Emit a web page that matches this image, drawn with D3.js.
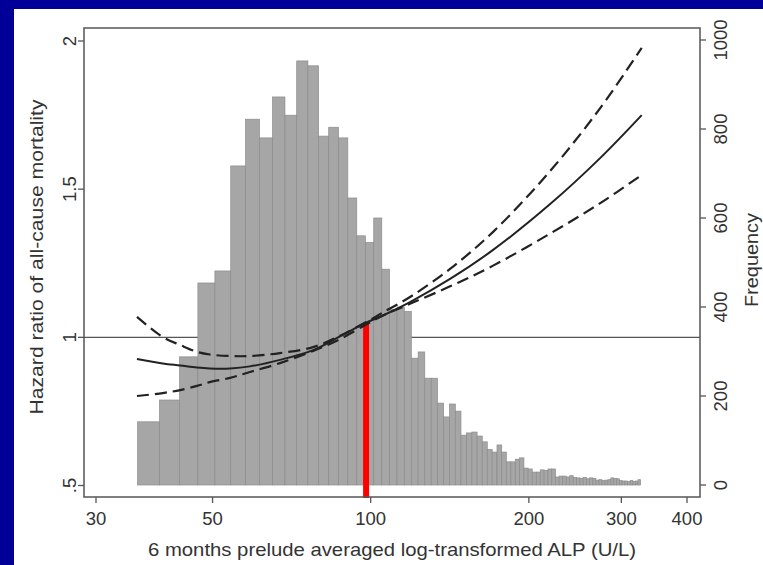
<!DOCTYPE html>
<html>
<head>
<meta charset="utf-8">
<script src="https://cdn.jsdelivr.net/npm/d3@7"></script>
<style>
  body { margin: 0; background: #000099; }
  svg { display: block; }
  text { font-family: "Liberation Sans", Arial, sans-serif; fill: #333; }
</style>
</head>
<body>
<script>
// histogram of ALP: 80 equal bins starting at 36 U/L
var binStart = 36, binWidth = 3.63;
var freq = [142, 191, 288, 454, 481, 717, 822, 780, 872, 831,
            953, 942, 784, 804, 780, 645, 560, 545, 600, 485,
            395, 400, 390, 285, 299, 240, 240, 184, 153, 182,
            166, 112, 117, 119, 110, 97, 80, 74, 90, 74,
            52, 52, 58, 61, 38, 36, 29, 29, 34, 33,
            36, 36, 18, 20, 20, 18, 21, 17, 16, 15,
            17, 14, 16, 15, 11, 12, 10, 11, 12, 16,
            15, 14, 10, 9, 9, 8, 10, 8, 9, 12];

// spline hazard ratio and 95% CI
var alp     = [35.9, 40.2, 43.4, 46.7, 49.4, 54.0, 58.9, 67.2, 77.7, 87.4, 98.4, 105, 118.8, 141.6, 171, 219, 273, 328];
var hr      = [0.927, 0.912, 0.905, 0.898, 0.895, 0.895, 0.902, 0.924, 0.957, 1.003, 1.051, 1.072, 1.119, 1.197, 1.295, 1.448, 1.604, 1.750];
var hrUpper = [1.069, 1.001, 0.974, 0.951, 0.942, 0.937, 0.937, 0.947, 0.967, 1.005, 1.053, 1.082, 1.136, 1.231, 1.356, 1.559, 1.772, 1.977];
var hrLower = [0.802, 0.812, 0.822, 0.836, 0.849, 0.863, 0.883, 0.913, 0.954, 0.994, 1.045, 1.072, 1.113, 1.172, 1.242, 1.349, 1.452, 1.548];

var refAlp = 98, refHr = 1.045;

var xTicks = [30, 50, 100, 200, 300, 400];
var hrTicks = [0.5, 1, 1.5, 2];
var hrTickLabels = [".5", "1", "1.5", "2"];
var freqTicks = [0, 200, 400, 600, 800, 1000];

var width = 763, height = 565;

var svg = d3.select("body").append("svg")
    .attr("width", width)
    .attr("height", height);

svg.append("rect")
    .attr("x", 14).attr("y", 9)
    .attr("width", width - 14).attr("height", height - 9)
    .attr("fill", "#fff");

var x = d3.scaleLog().domain([30, 400]).range([96, 687]);
var yHr = d3.scaleLinear().domain([0.5, 2]).range([485.5, 41]);
var yFreq = d3.scaleLinear().domain([0, 1000]).range([485, 40]);

var frame = {left: 84, right: 700, top: 28, bottom: 497};

// reference line at HR = 1
svg.append("line")
    .attr("x1", frame.left).attr("x2", frame.right)
    .attr("y1", yHr(1)).attr("y2", yHr(1))
    .attr("stroke", "#555").attr("stroke-width", 1.2);

// histogram
var bins = freq.map(function(f, i) {
  return {x0: binStart + i * binWidth, x1: binStart + (i + 1) * binWidth, f: f};
});

svg.append("g").selectAll("rect")
  .data(bins)
  .enter().append("rect")
    .attr("x", function(d) { return x(d.x0); })
    .attr("width", function(d) { return x(d.x1) - x(d.x0); })
    .attr("y", function(d) { return yFreq(d.f); })
    .attr("height", function(d) { return yFreq(0) - yFreq(d.f); })
    .attr("fill", "#a6a6a6")
    .attr("stroke", "#8c8c8c")
    .attr("stroke-width", 0.7);

// red marker
svg.append("line")
    .attr("x1", x(refAlp)).attr("x2", x(refAlp))
    .attr("y1", yHr(refHr)).attr("y2", frame.bottom + 1)
    .attr("stroke", "#ff0000").attr("stroke-width", 6);

// curves
function curvePath(vals) {
  return d3.line()
    .x(function(d, i) { return x(alp[i]); })
    .y(function(d) { return yHr(d); })
    .curve(d3.curveCatmullRom)(vals);
}

svg.append("path").attr("d", curvePath(hrUpper))
    .attr("fill", "none").attr("stroke", "#222").attr("stroke-width", 2.2)
    .attr("stroke-dasharray", "12,6");
svg.append("path").attr("d", curvePath(hrLower))
    .attr("fill", "none").attr("stroke", "#222").attr("stroke-width", 2.2)
    .attr("stroke-dasharray", "12,6");
svg.append("path").attr("d", curvePath(hr))
    .attr("fill", "none").attr("stroke", "#222").attr("stroke-width", 2);

// frame
svg.append("rect")
    .attr("x", frame.left).attr("y", frame.top)
    .attr("width", frame.right - frame.left).attr("height", frame.bottom - frame.top)
    .attr("fill", "none").attr("stroke", "#555").attr("stroke-width", 1.5);

// x axis
var xg = svg.append("g");
xg.selectAll("line").data(xTicks).enter().append("line")
    .attr("x1", function(d) { return x(d); }).attr("x2", function(d) { return x(d); })
    .attr("y1", frame.bottom).attr("y2", frame.bottom + 6)
    .attr("stroke", "#555").attr("stroke-width", 1.3);
xg.selectAll("text").data(xTicks).enter().append("text")
    .attr("x", function(d) { return x(d); })
    .attr("y", 525)
    .attr("text-anchor", "middle")
    .style("font-size", "18.5px")
    .text(function(d) { return d; });

// left axis
var lg = svg.append("g");
lg.selectAll("line").data(hrTicks).enter().append("line")
    .attr("x1", frame.left - 6).attr("x2", frame.left)
    .attr("y1", function(d) { return yHr(d); }).attr("y2", function(d) { return yHr(d); })
    .attr("stroke", "#555").attr("stroke-width", 1.3);
lg.selectAll("text").data(hrTicks).enter().append("text")
    .attr("transform", function(d) { return "translate(76," + yHr(d) + ") rotate(-90)"; })
    .attr("text-anchor", "middle")
    .style("font-size", "18.5px")
    .text(function(d, i) { return hrTickLabels[i]; });

// right axis
var rg = svg.append("g");
rg.selectAll("line").data(freqTicks).enter().append("line")
    .attr("x1", frame.right).attr("x2", frame.right + 6)
    .attr("y1", function(d) { return yFreq(d); }).attr("y2", function(d) { return yFreq(d); })
    .attr("stroke", "#555").attr("stroke-width", 1.3);
rg.selectAll("text").data(freqTicks).enter().append("text")
    .attr("transform", function(d) { return "translate(727," + yFreq(d) + ") rotate(-90)"; })
    .attr("text-anchor", "middle")
    .style("font-size", "18.5px")
    .text(function(d) { return d; });

// titles
svg.append("text")
    .attr("x", 392).attr("y", 556)
    .attr("text-anchor", "middle")
    .attr("textLength", 488)
    .attr("lengthAdjust", "spacingAndGlyphs")
    .style("font-size", "19px")
    .text("6 months prelude averaged log-transformed ALP (U/L)");

svg.append("text")
    .attr("transform", "translate(43,257) rotate(-90)")
    .attr("text-anchor", "middle")
    .attr("textLength", 315)
    .attr("lengthAdjust", "spacingAndGlyphs")
    .style("font-size", "19px")
    .text("Hazard ratio of all-cause mortality");

svg.append("text")
    .attr("transform", "translate(758,260) rotate(-90)")
    .attr("text-anchor", "middle")
    .attr("textLength", 94)
    .attr("lengthAdjust", "spacingAndGlyphs")
    .style("font-size", "19px")
    .text("Frequency");
</script>
</body>
</html>
